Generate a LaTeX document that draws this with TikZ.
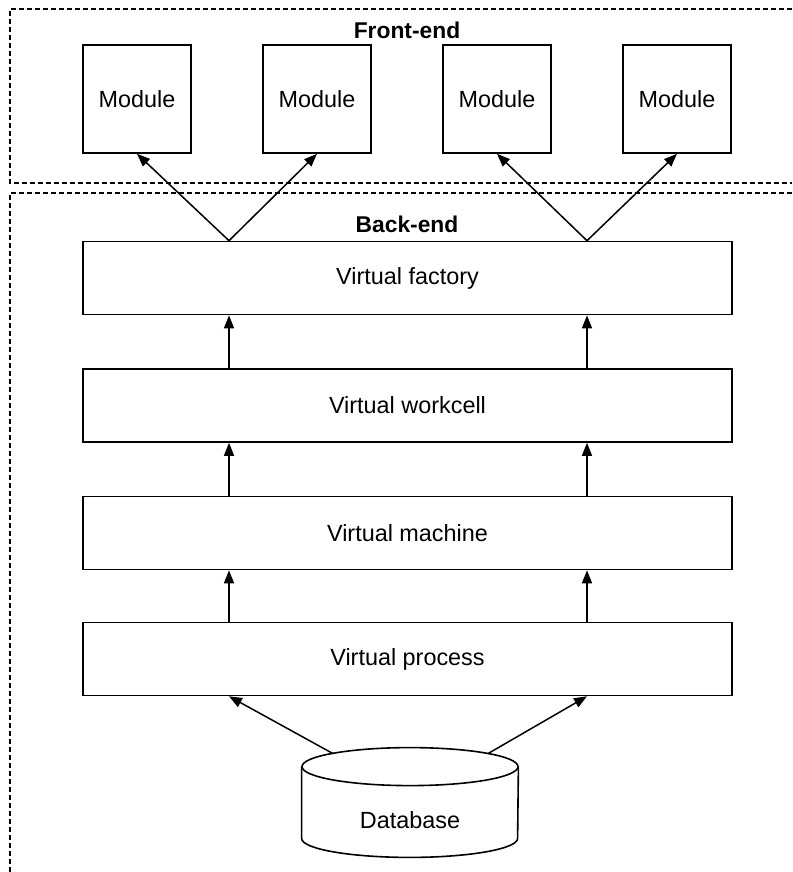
\documentclass[tikz,border=0pt]{standalone}
\usepackage{fontspec}
\setmainfont{Liberation Sans}
\usetikzlibrary{arrows.meta,calc}

\begin{document}
\begin{tikzpicture}[x=0.5pt,y=-0.5pt,
  mod/.style={draw,line width=0.8pt,minimum size=54pt,inner sep=0pt},
  layer/.style={draw,line width=0.8pt,minimum width=324.5pt,minimum height=36.5pt,inner sep=0pt},
  arr/.style={line width=0.75pt,-{Triangle[length=6.5pt,width=5pt]}},
  frame/.style={line width=0.6pt,dash pattern=on 2.5pt off 1.5pt},
  font=\fontsize{11.7}{14}\selectfont]
\useasboundingbox (0,0) rectangle (792,872);
% frames
\draw[frame] (792,9)--(10,9)--(10,183)--(792,183);
\draw[frame] (792,193)--(10,193)--(10,872);
\node[font=\fontsize{11.4}{14}\selectfont\bfseries] (fe) at (407,30) {Front-end};
\node[font=\fontsize{11.4}{14}\selectfont\bfseries] (be) at (407,224) {Back-end};
% modules
\node[mod] (m1) at (137,99) {Module};
\node[mod] (m2) at (317,99) {Module};
\node[mod] (m3) at (497,99) {Module};
\node[mod] (m4) at (677,99) {Module};
% layers
\node[layer] (vf) at (407.5,278) {Virtual factory};
\node[layer] (vw) at (407.5,405.5) {Virtual workcell};
\node[layer] (vm) at (407.5,533) {Virtual machine};
\node[layer] (vp) at (407.5,659) {Virtual process};
\coordinate (la) at (229,0);
\coordinate (ra) at (587,0);
% database
\node[minimum width=108pt,minimum height=54.5pt,inner sep=0pt] (db) at (410,802.5) {};
\node (dbt) at ($(db.center)+(0,18)$) {Database};
\draw[line width=0.8pt] ($(db.north)+(0,19)$) ellipse[x radius=54pt,y radius=9.5pt];
\draw[line width=0.8pt] ($(db.north west)+(0,19)$)--($(db.south west)+(0,-19)$)
  arc[start angle=180,end angle=360,x radius=54pt,y radius=9.5pt]--($(db.north east)+(0,19)$);
% arrows
\draw[arr] (la |- vf.north)--(m1.south);
\draw[arr] (la |- vf.north)--(m2.south);
\draw[arr] (ra |- vf.north)--(m3.south);
\draw[arr] (ra |- vf.north)--(m4.south);
\foreach \lo/\up in {vw/vf,vm/vw,vp/vm}{
  \draw[arr] (la |- \lo.north)--(la |- \up.south);
  \draw[arr] (ra |- \lo.north)--(ra |- \up.south);
}
\draw[arr] ($(db.north)+(-77,6)$)--(la |- vp.south);
\draw[arr] ($(db.north)+(78,6)$)--(ra |- vp.south);
\end{tikzpicture}
\end{document}
